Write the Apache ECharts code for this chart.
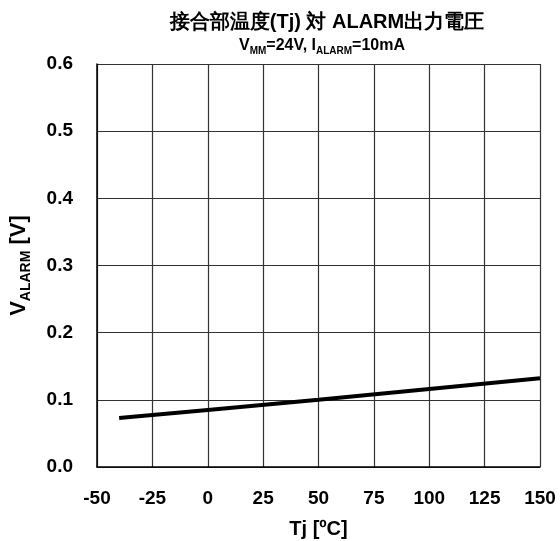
<!DOCTYPE html>
<html>
<head>
<meta charset="utf-8">
<script src="https://cdn.jsdelivr.net/npm/echarts@6/dist/echarts.min.js"></script>
<style>
html,body{margin:0;padding:0;background:#fff;}
#chart{width:560px;height:541px;}
</style>
</head>
<body>
<div id="chart"></div>
<script>
// Junction temperature (°C) vs. ALARM output voltage (V)
const tjValues = [-40, 0, 50, 100, 150];
const vAlarm = [0.073, 0.085, 0.100, 0.116, 0.132];
const xTicks = [-50, -25, 0, 25, 50, 75, 100, 125, 150];
const yTicks = [0.0, 0.1, 0.2, 0.3, 0.4, 0.5, 0.6];

const FONT = '"Liberation Sans", Arial, sans-serif';
const chart = echarts.init(document.getElementById('chart'), null, {renderer: 'canvas'});

chart.setOption({
  animation: false,
  backgroundColor: '#fff',
  textStyle: {fontFamily: FONT},
  title: [{
    text: '接合部温度(Tj) 対 ALARM出力電圧',
    left: 322, top: 7, textAlign: 'center',
    textStyle: {fontFamily: FONT, fontSize: 20, fontWeight: 'bold', color: '#000'}
  }, {
    text: '{b|V}{s|MM}{b|=24V, I}{s|ALARM}{b|=10mA}',
    left: 317, top: 33, textAlign: 'center',
    textStyle: {
      fontFamily: FONT, color: '#000',
      rich: {
        b: {fontFamily: FONT, fontSize: 16, fontWeight: 'bold', color: '#000', verticalAlign: 'bottom'},
        s: {fontFamily: FONT, fontSize: 10, fontWeight: 'bold', color: '#000', verticalAlign: 'bottom', padding: [0, 0, -2, 0]}
      }
    }
  }],
  grid: {left: 97, right: 20, top: 64, bottom: 74, show: false, containLabel: false, outerBoundsMode: 'none'},
  xAxis: {
    type: 'value', min: -50, max: 150, interval: 25,
    name: 'Tj [ºC]', nameLocation: 'middle', nameGap: 52,
    nameTextStyle: {fontFamily: FONT, fontSize: 20, fontWeight: 'bold', color: '#000'},
    axisLine: {show: true, onZero: false, lineStyle: {color: '#000', width: 1.5}},
    axisTick: {show: false},
    axisLabel: {margin: 22, fontFamily: FONT, fontSize: 19, fontWeight: 'bold', color: '#000',
      customValues: xTicks},
    splitLine: {show: true, lineStyle: {color: '#333', width: 1.2}}
  },
  yAxis: {
    type: 'value', min: 0, max: 0.6, interval: 0.1,
    name: '{v|V}{s|ALARM}{v| [V]}', nameLocation: 'middle', nameGap: 67, nameRotate: 90,
    nameTextStyle: {
      fontFamily: FONT, color: '#000',
      rich: {
        v: {fontFamily: FONT, fontSize: 22, fontWeight: 'bold', color: '#000', verticalAlign: 'bottom'},
        s: {fontFamily: FONT, fontSize: 14, fontWeight: 'bold', color: '#000', verticalAlign: 'bottom', padding: [0, 0, -3, 0]}
      }
    },
    axisLine: {show: true, onZero: false, lineStyle: {color: '#000', width: 1.5}},
    axisTick: {show: false},
    axisLabel: {margin: 24, fontFamily: FONT, fontSize: 19, fontWeight: 'bold', color: '#000',
      formatter: v => v.toFixed(1)},
    splitLine: {show: true, lineStyle: {color: '#333', width: 1.2}}
  },
  series: [{
    type: 'line',
    data: tjValues.map((t, i) => [t, vAlarm[i]]),
    showSymbol: false,
    lineStyle: {color: '#000', width: 4},
    z: 5
  }]
});
</script>
</body>
</html>
